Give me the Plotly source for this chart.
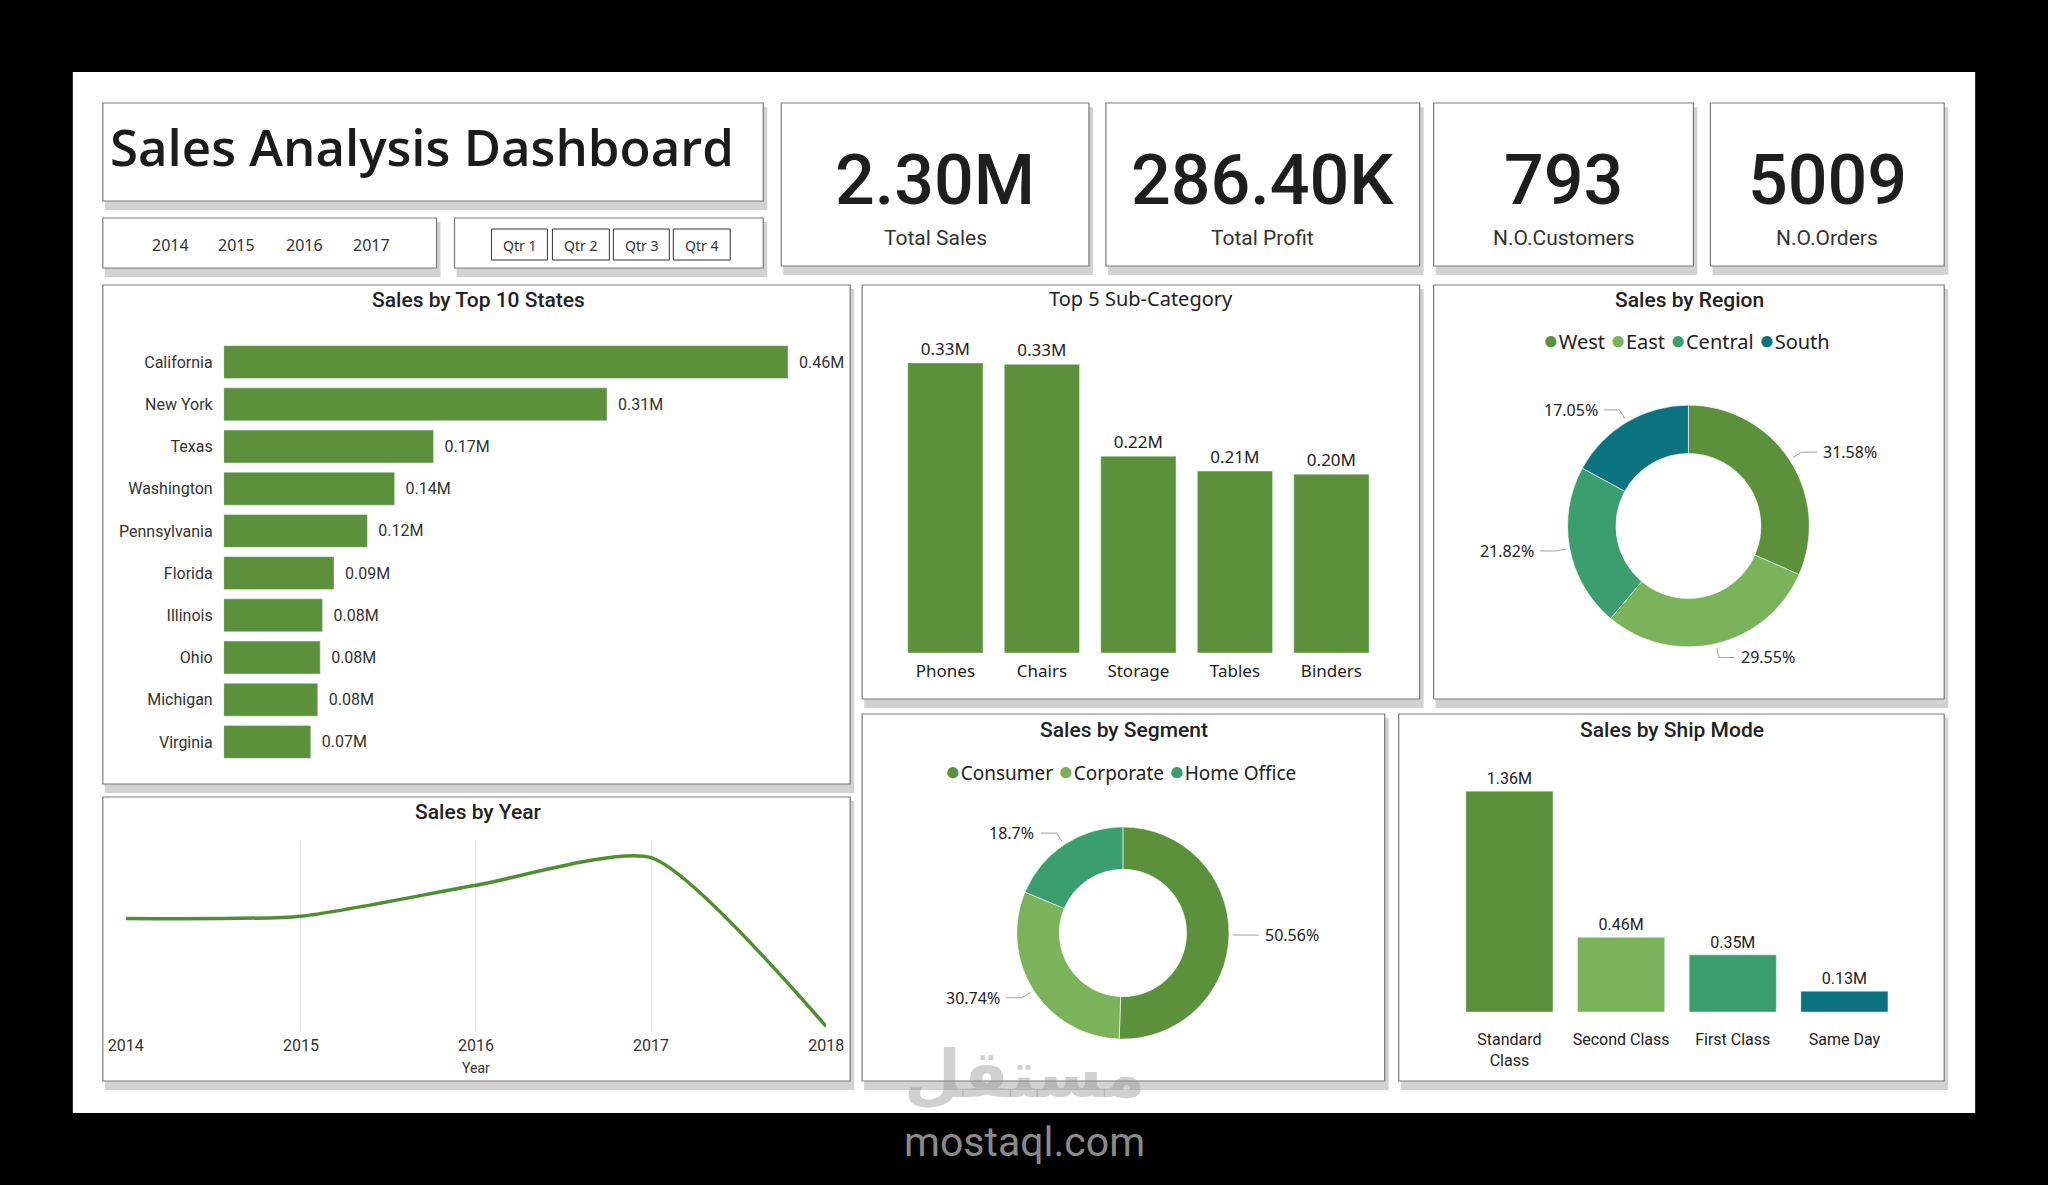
import math
import plotly.graph_objects as go

W, H = 2048, 1185

# ---------------- data ----------------
states = ["California", "New York", "Texas", "Washington", "Pennsylvania",
          "Florida", "Illinois", "Ohio", "Michigan", "Virginia"]
state_sales = [457688, 310876, 170188, 138641, 116512, 89474, 80166, 78258, 76270, 70637]

subcats = ["Phones", "Chairs", "Storage", "Tables", "Binders"]
subcat_sales = [330007, 328449, 223844, 206966, 203413]

regions = ["West", "East", "Central", "South"]
region_pct = [31.58, 29.55, 21.82, 17.05]

segments = ["Consumer", "Corporate", "Home Office"]
segment_pct = [50.56, 30.74, 18.7]

ship_modes = ["Standard<br>Class", "Second Class", "First Class", "Same Day"]
ship_sales = [1358216, 459194, 351428, 128363]

years = [2014, 2015, 2016, 2017, 2018]
year_sales = [469000, 479000, 609000, 725000, 15000]

kpi_values = ["2.30M", "286.40K", "793", "5009"]
kpi_labels = ["Total Sales", "Total Profit", "N.O.Customers", "N.O.Orders"]
slicer_years = ["2014", "2015", "2016", "2017"]
quarters = ["Qtr 1", "Qtr 2", "Qtr 3", "Qtr 4"]

# ---------------- style ----------------
GREEN = "#5b913b"
PALETTE = ["#5b913b", "#7bb35b", "#3a9e6e", "#0b737f"]
TXT = "#222222"
NB = "\u00a0"
SX = 1.017  # horizontal spread about the page centre


def px(x):
    return (W / 2 + (x - W / 2) * SX) / W


def py(y):
    return 1 - y / H


def fmt_m(v):
    return f"{v / 1e6:.2f}M"


shapes = []
annotations = []


def rect(x0, y0, x1, y1, fill="white", line="#7a7a7a", lw=1.2):
    shapes.append(dict(type="rect", xref="paper", yref="paper",
                       x0=px(x0), x1=px(x1), y0=py(y1), y1=py(y0),
                       fillcolor=fill, line=dict(color=line, width=lw), layer="below"))


def panel(x0, y0, x1, y1):
    rect(x0 + 2, y0 + 4, x1 + 4, y1 + 9, fill="#d2d2d2", line="rgba(0,0,0,0)", lw=0)
    rect(x0, y0, x1, y1)


def ann(text, x, y, size, color=TXT, family="Roboto", xanchor="center",
        yanchor="middle", weight=None):
    f = dict(size=size, color=color, family=family)
    if weight:
        f["weight"] = weight
    annotations.append(dict(text=text, x=px(x), y=py(y), xref="paper", yref="paper",
                            showarrow=False, xanchor=xanchor, yanchor=yanchor, font=f))


# canvas
rect(72, 72, 1976, 1113, fill="white", line="rgba(0,0,0,0)", lw=0)

# header boxes
panel(102, 103, 763, 201)
panel(102, 218, 436, 268)
panel(454, 218, 763, 268)
kpi_boxes = [(781, 1089), (1106, 1420), (1434, 1694), (1711, 1945)]
for x0, x1 in kpi_boxes:
    panel(x0, 103, x1, 266)

# visual panels
panel(102, 285, 850, 784)
panel(862, 285, 1420, 699)
panel(1434, 285, 1945, 699)
panel(102, 797, 850, 1081)
panel(862, 714, 1385, 1081)
panel(1399, 714, 1945, 1081)

# title + slicers
ann("Sales Analysis Dashboard", 107, 146, 51, color="#1b1b1b", family="Open Sans",
    xanchor="left", weight=600)
for lbl, x in zip(slicer_years, [170, 236, 304, 371]):
    ann(lbl, x, 245, 16, color="#333", family="Noto Sans")
qx = [(491, 547), (552, 609), (613, 669), (673, 730)]
for lbl, (x0, x1) in zip(quarters, qx):
    shapes.append(dict(type="rect", xref="paper", yref="paper", x0=px(x0), x1=px(x1),
                       y0=py(260), y1=py(229), line=dict(color="#333", width=1),
                       fillcolor="white"))
    ann(lbl, (x0 + x1) / 2, 245, 14, color="#333", family="Noto Sans")

# KPI cards
for (x0, x1), v, l in zip(kpi_boxes, kpi_values, kpi_labels):
    ann(v, (x0 + x1) / 2, 180, 70, color="#1e1e1e", family="Roboto", weight=500)
    ann(l, (x0 + x1) / 2, 238, 21, color="#333", family="Roboto")

# panel titles
ann("Sales by Top 10 States", 478, 300, 21, family="Roboto", weight=500)
ann("Top 5 Sub-Category", 1141, 299, 20, family="Noto Sans")
ann("Sales by Region", 1690, 300, 21, family="Roboto", weight=500)
ann("Sales by Year", 478, 812, 21, family="Roboto", weight=500)
ann("Sales by Segment", 1124, 730, 21, family="Roboto", weight=500)
ann("Sales by Ship Mode", 1673, 730, 21, family="Roboto", weight=500)

fig = go.Figure()

# ---- states bar
fig.add_trace(go.Bar(x=state_sales, y=states, orientation="h", marker=dict(color=GREEN),
                     text=[NB * 2 + fmt_m(v) for v in state_sales], textposition="outside",
                     textfont=dict(size=16, color="#333", family="Roboto"),
                     cliponaxis=False, xaxis="x", yaxis="y", showlegend=False))

# ---- sub-category bar
fig.add_trace(go.Bar(x=subcats, y=subcat_sales, marker=dict(color=GREEN),
                     text=[fmt_m(v) for v in subcat_sales], textposition="outside",
                     textfont=dict(size=17, color="#222", family="Noto Sans"),
                     cliponaxis=False, xaxis="x2", yaxis="y2", showlegend=False))

# ---- sales by year line
fig.add_trace(go.Scatter(x=years, y=year_sales, mode="lines",
                         line=dict(color="#4f8f32", width=3.5, shape="spline", smoothing=0.6),
                         xaxis="x3", yaxis="y3", showlegend=False, cliponaxis=False))

# ---- ship mode bar
fig.add_trace(go.Bar(x=ship_modes, y=ship_sales, marker=dict(color=PALETTE),
                     text=[fmt_m(v) for v in ship_sales], textposition="outside",
                     textfont=dict(size=16, color="#222", family="Roboto"),
                     cliponaxis=False, xaxis="x4", yaxis="y4", showlegend=False))


# ---- donuts
def donut(labels, pct, cx, cy, r, hole, lx, ly, lsize):
    fig.add_trace(go.Pie(labels=labels, values=pct, hole=hole, sort=False,
                         direction="clockwise", rotation=0, textinfo="none",
                         marker=dict(colors=PALETTE[:len(labels)],
                                     line=dict(color="rgba(255,255,255,0.6)", width=1)),
                         domain=dict(x=[px(cx) - r / W, px(cx) + r / W],
                                     y=[py(cy + r), py(cy - r)]),
                         showlegend=False, hoverinfo="label+percent"))
    total = sum(pct)
    cum = 0
    for v in pct:
        mid = (cum + v / 2) / total * 2 * math.pi
        cum += v
        s, c = math.sin(mid), math.cos(mid)
        p = (cx + (r + 2) * s, cy - (r + 2) * c)
        e = (cx + (r + 12) * s, cy - (r + 12) * c)
        sign = 1 if s >= 0 else -1
        f = (e[0] + 16 * sign, e[1])
        path = (f"M {px(p[0])} {py(p[1])} L {px(e[0])} {py(e[1])} "
                f"L {px(f[0])} {py(f[1])}")
        shapes.append(dict(type="path", xref="paper", yref="paper", path=path,
                           line=dict(color="#a0a0a0", width=1)))
        ann(f"{v}%", f[0] + 4 * sign, f[1], 16, color="#222", family="Noto Sans",
            xanchor="left" if sign > 0 else "right")
    # legend
    parts = [f"<span style='color:{col};font-size:26px'>●</span>{lab}"
             for lab, col in zip(labels, PALETTE)]
    ann(" ".join(parts), lx, ly, lsize, color="#222", family="Noto Sans")


donut(regions, region_pct, 1689, 526, 123, 0.6, 1687, 339, 20)
donut(segments, segment_pct, 1123, 933, 108, 0.6, 1121, 770, 19)

# watermark
ann("مستقل", 1024, 1074, 66, color="rgba(150,150,150,0.45)", family="DejaVu Sans",
    weight=700)
ann("mostaql.com", 1024, 1142, 41, color="#8a8a8a", family="Roboto")

fig.update_layout(
    width=W, height=H, margin=dict(l=0, r=0, t=0, b=0),
    paper_bgcolor="black", plot_bgcolor="rgba(0,0,0,0)",
    bargap=0.22,
    xaxis=dict(domain=[px(223), px(803)], range=[0, 470000], visible=False),
    yaxis=dict(domain=[py(763), py(341)], categoryorder="array", categoryarray=states,
               autorange="reversed", showgrid=False, zeroline=False, ticks="",
               showline=False, ticklabelstandoff=10,
               tickfont=dict(size=16, color="#333", family="Roboto")),
    xaxis2=dict(domain=[px(897), px(1380)], showgrid=False, zeroline=False, ticks="",
                showline=False, anchor="y2", ticklabelstandoff=6,
                tickfont=dict(size=17, color="#222", family="Noto Sans")),
    yaxis2=dict(domain=[py(653), py(319)], range=[0, 380000], visible=False, anchor="x2"),
    xaxis3=dict(domain=[px(125), px(826)], range=[2014, 2018], anchor="y3",
                tickvals=years, ticktext=[str(y) for y in years], showgrid=True,
                gridcolor="#e8e8e8", zeroline=False, ticks="", showline=False,
                ticklabelstandoff=4,
                tickfont=dict(size=16, color="#333", family="Roboto"),
                title=dict(text="Year", font=dict(size=14, color="#333", family="Roboto"),
                           standoff=9)),
    yaxis3=dict(domain=[py(1030), py(842)], range=[0, 791000], visible=False, anchor="x3"),
    xaxis4=dict(domain=[px(1454), px(1901)], showgrid=False, zeroline=False, ticks="",
                showline=False, anchor="y4", ticklabelstandoff=16,
                tickfont=dict(size=16, color="#222", family="Roboto")),
    yaxis4=dict(domain=[py(1012), py(760)], range=[0, 1550000], visible=False, anchor="x4"),
    shapes=shapes,
    annotations=annotations,
)

fig.write_html("out.html",
               post_script="document.body.style.margin='0px';"
                           "document.body.style.overflow='hidden';")
